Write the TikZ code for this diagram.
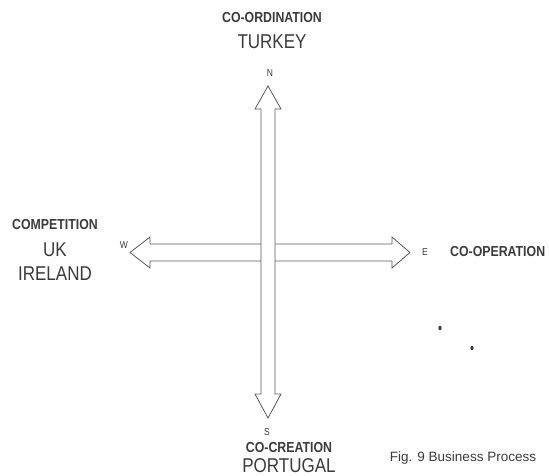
\documentclass[tikz,border=0pt]{standalone}
\usepackage{fontspec}
\setmainfont{Liberation Sans}
\newfontfamily\narrowfont[FakeStretch=0.85]{Liberation Sans}
\usepackage{tikz}
\usetikzlibrary{positioning,calc}
\definecolor{ink}{HTML}{3A3A3A}
\definecolor{lnc}{HTML}{5A5A5A}

\begin{document}
\begin{tikzpicture}[
    x=1pt, y=-1pt,
    node distance=11pt,
    lab/.style={inner sep=0pt, text=ink},
    head/.style={lab, font=\narrowfont\fontsize{14.5}{16}\selectfont\bfseries},
    place/.style={lab, font=\narrowfont\fontsize{20}{22}\selectfont},
    pole/.style={lab, font=\narrowfont\fontsize{10}{11}\selectfont},
    figlab/.style={lab, font=\fontsize{13.5}{15}\selectfont},
    blockarrow/.style={draw=lnc, line width=0.8pt, fill=white, line join=miter}
]
\useasboundingbox (0,0) rectangle (549,475);

% compass tips
\coordinate (tipN) at (268,86);
\coordinate (tipS) at (268,418);
\coordinate (tipW) at (130,252.5);
\coordinate (tipE) at (410,252.5);

% west--east arrow
\draw[blockarrow] (tipW) -- ($(tipW)+(20,-15.5)$) -- ($(tipW)+(20,-8.5)$)
    -- ($(tipE)+(-18,-8.5)$) -- ($(tipE)+(-18,-15.5)$) -- (tipE)
    -- ($(tipE)+(-18,15.5)$) -- ($(tipE)+(-18,8.5)$)
    -- ($(tipW)+(20,8.5)$) -- ($(tipW)+(20,15.5)$) -- cycle;

% north--south arrow
\draw[blockarrow] (tipN) -- ($(tipN)+(13,23)$) -- ($(tipN)+(7,23)$)
    -- ($(tipS)+(7,-24)$) -- ($(tipS)+(13,-24)$) -- (tipS)
    -- ($(tipS)+(-13,-24)$) -- ($(tipS)+(-7,-24)$)
    -- ($(tipN)+(-7,23)$) -- ($(tipN)+(-13,23)$) -- cycle;

% poles
\node[pole] (n) at (270,73)  {N};
\node[pole] (s) at (267,432) {S};
\node[pole] (w) at (124,245) {W};
\node[pole] (e) at (425,252) {E};

% north
\node[head] (coord) at (272,18) {CO-ORDINATION};
\node[place, below=11.5pt of coord] (turkey) {TURKEY};

% west
\node[head] (comp) at (55,225) {COMPETITION};
\node[place, below=12pt of comp] (uk) {UK};
\node[place, below=10pt of uk]   (ireland) {IRELAND};

% east
\node[head, anchor=west] (coop) at (450,252) {CO-OPERATION};

% south
\node[head] (cocr) at (289,447) {CO-CREATION};
\node[place, below=5.5pt of cocr] (portugal) {PORTUGAL};

\node[figlab] (fig) at (463,458) {Fig. 9 Business Process};

% specks
\fill[ink] (440,328) ellipse (1.6 and 2.2);
\fill[ink] (472,348) ellipse (1.6 and 2.2);
\end{tikzpicture}
\end{document}
